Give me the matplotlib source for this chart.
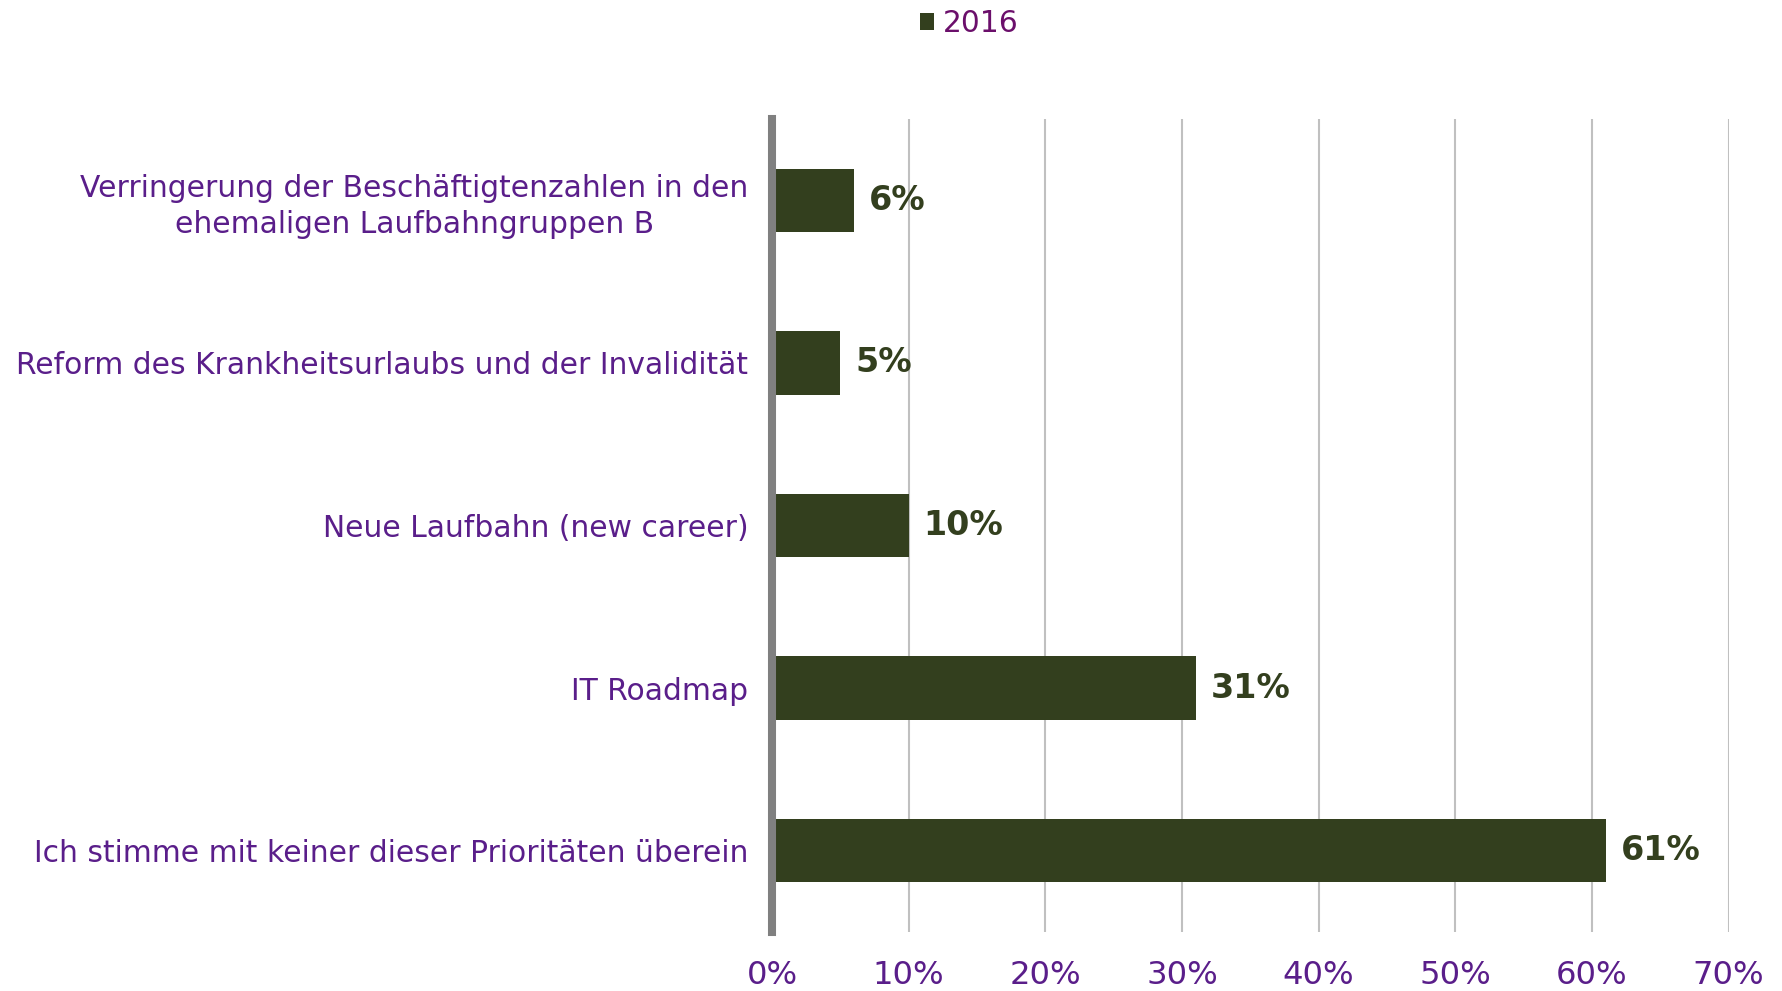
import matplotlib.pyplot as plt
from matplotlib.ticker import MultipleLocator, PercentFormatter

categories = ["Verringerung der Beschäftigtenzahlen in den\nehemaligen Laufbahngruppen B",
              "Reform des Krankheitsurlaubs und der Invalidität",
              "Neue Laufbahn (new career)",
              "IT Roadmap",
              "Ich stimme mit keiner dieser Prioritäten überein"]
values_2016 = [0.06, 0.05, 0.10, 0.31, 0.61]
series_name = "2016"

bar_color = "#333F1E"
label_color = "#5A1E8A"

plt.rcParams['font.family'] = ['DejaVu Sans']

fig = plt.figure(figsize=(17.82, 9.91), dpi=100)
ax = fig.add_axes([0.4332, 0.0595, 0.5368, 0.8205])

ypos = list(range(len(categories)))[::-1]
bars = ax.barh(ypos, values_2016, height=0.39, color=bar_color, label=series_name, zorder=3)

for y, v in zip(ypos, values_2016):
    ax.text(v + 0.011, y, f"{round(v*100)}%", va='center', ha='left',
            fontsize=24, fontweight='bold', color=bar_color, zorder=4)

ax.set_yticks(ypos)
ax.set_yticklabels(categories, fontsize=21.4, color=label_color, ha='right', multialignment='center',
                   linespacing=1.3)
ax.set_ylim(-0.5, len(categories) - 0.5)
ax.set_xlim(0, 0.7)
ax.xaxis.set_major_locator(MultipleLocator(0.1))
ax.xaxis.set_major_formatter(PercentFormatter(1.0, decimals=0))
ax.tick_params(axis='x', length=0, pad=20, labelsize=23.2, labelcolor=label_color)
ax.tick_params(axis='y', length=0, pad=17)

ax.grid(axis='x', color='#C0C0C0', linewidth=1.5, zorder=0)
for side in ['top', 'right', 'bottom']:
    ax.spines[side].set_visible(False)
ax.spines['left'].set_color('#808080')
ax.spines['left'].set_linewidth(5.8)
ax.spines['left'].set_zorder(5)

leg = fig.legend(loc='upper center', bbox_to_anchor=(0.544, 1.018), frameon=False,
                 fontsize=21.3, handlelength=0.5, handleheight=0.5, handletextpad=0.3)
for t in leg.get_texts():
    t.set_color('#6B0F6B')

fig.savefig('out.png', dpi=100)
